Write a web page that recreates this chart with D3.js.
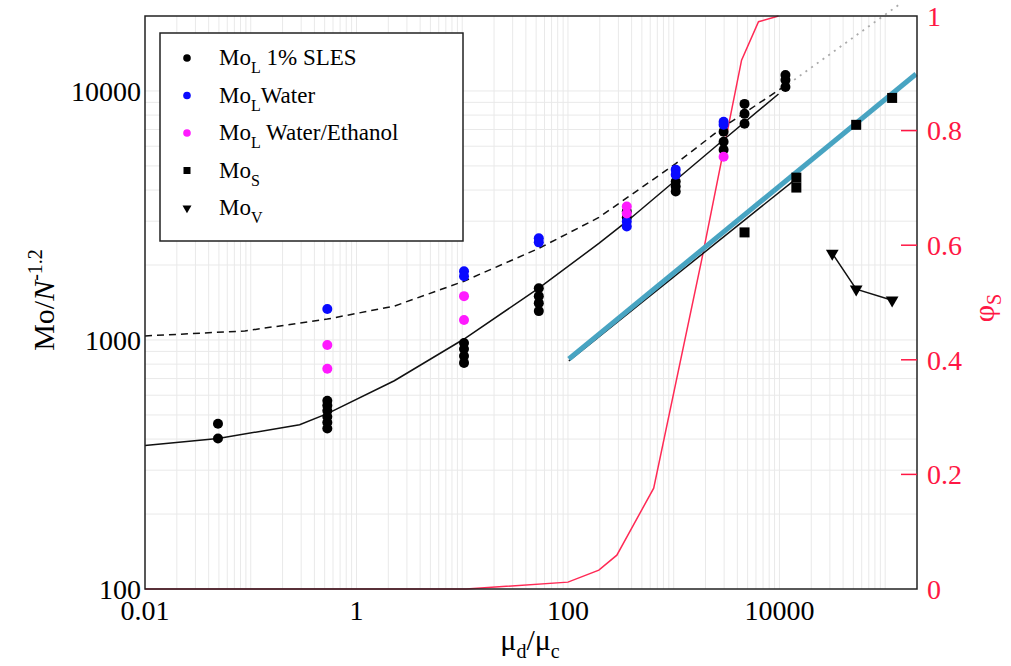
<!DOCTYPE html>
<html>
<head>
<meta charset="utf-8">
<script src="https://cdn.jsdelivr.net/npm/d3@7"></script>
<style>
  body { margin: 0; background: #fff; }
  text { font-family: 'Liberation Serif', 'DejaVu Serif', serif; }
</style>
</head>
<body>
<svg id="chart"></svg>
<script>
// values (x = mu_d/mu_c, y = Mo/N^-1.2)
const slesX = [0.049, 0.049, 0.53, 0.53, 0.53, 0.53, 0.53, 0.53, 10.4, 10.4, 10.4, 10.4,
  53, 53, 53, 53, 360, 360, 1045, 1045, 1045, 2965, 2965, 2965, 4677, 4677, 4677, 11400, 11400, 11400]
const slesY = [461, 402, 570, 545, 520, 492, 466, 441, 973, 920, 863, 809,
  1614, 1500, 1406, 1306, 3281, 3105, 4325, 4130, 3945, 6855, 6252, 5808, 8872, 8091, 7379, 11590, 11066, 10375]

const waterX = [0.53, 10.4, 10.4, 53, 53, 360, 360, 1045, 1045, 2965, 2965]
const waterY = [1331, 1888, 1803, 2559, 2466, 2992, 2858, 4831, 4613, 7516, 7311]

const ethanolX = [0.53, 0.53, 10.4, 10.4, 360, 360, 2965]
const ethanolY = [955, 766, 1500, 1202, 3436, 3221, 5445]

const moSX = [4677, 14454, 14454, 53200, 116400]
const moSY = [2704, 4487, 4093, 7311, 9376]

const moVX = [31600, 53200, 116400]
const moVY = [2228, 1600, 1445]

// model curves
const solidX = [0.01, 0.049, 0.29, 0.53, 2.28, 10.4, 53, 196, 360, 2965, 9800]
const solidY = [377, 402, 457, 506, 686, 1009, 1614, 2443, 2992, 6368, 9727]
const dashedX = [0.01, 0.088, 0.53, 2.28, 10.4, 53, 196, 1045, 2965, 10900]
const dashedY = [1038, 1087, 1213, 1368, 1722, 2333, 3105, 5105, 7178, 10375]
const dottedX = [12170, 132700]
const dottedY = [10670, 22080]
const fitSX = [102, 14454]
const fitSY = [824, 4446]
const blueX = [102, 196000]
const blueY = [839, 11700]

// phi_S curve (right axis)
const phiX = [0.01, 10.9, 100, 196, 290, 647, 1837, 4385, 6340, 9800]
const phiY = [0, 0, 0.012, 0.033, 0.059, 0.176, 0.574, 0.923, 0.99, 1.0]

const xTicks = [0.01, 1, 100, 10000]
const yTicks = [100, 1000, 10000]
const phiTicks = [0, 0.2, 0.4, 0.6, 0.8, 1]

const W = 1011, H = 666
const margin = { left: 145, right: 94, top: 16, bottom: 77 }
const iw = W - margin.left - margin.right
const ih = H - margin.top - margin.bottom

const svg = d3.select('#chart').attr('width', W).attr('height', H)
const g = svg.append('g').attr('transform', `translate(${margin.left},${margin.top})`)

const x = d3.scaleLog().domain([0.01, 2e5]).range([0, iw])
const y = d3.scaleLog().domain([100, 20000]).range([ih, 0])
const yR = d3.scaleLinear().domain([0, 1]).range([ih, 0])

// faint log grid
const gridCol = '#e9e9e9'
const xMinor = []
for (let e = -2; e <= 5; e++) for (let m = 1; m <= 9; m++) {
  const v = m * Math.pow(10, e)
  if (v > 0.01 && v < 2e5) xMinor.push(v)
}
const yMinor = []
for (let e = 2; e <= 4; e++) for (let m = 1; m <= 9; m++) {
  const v = m * Math.pow(10, e)
  if (v > 100 && v < 20000) yMinor.push(v)
}
g.append('g').selectAll('line').data(xMinor).enter().append('line')
  .attr('x1', d => x(d)).attr('x2', d => x(d)).attr('y1', 0).attr('y2', ih)
  .attr('stroke', gridCol).attr('stroke-width', 1)
g.append('g').selectAll('line').data(yMinor).enter().append('line')
  .attr('y1', d => y(d)).attr('y2', d => y(d)).attr('x1', 0).attr('x2', iw)
  .attr('stroke', gridCol).attr('stroke-width', 1)

const zip = (xs, ys) => xs.map((v, i) => [v, ys[i]])
const line = d3.line().x(d => x(d[0])).y(d => y(d[1]))
const lineR = d3.line().x(d => x(d[0])).y(d => yR(d[1]))

// phi_S
g.append('path').attr('d', lineR(zip(phiX, phiY)))
  .attr('fill', 'none').attr('stroke', '#ff2a55').attr('stroke-width', 1.5)

g.append('path').attr('d', line(zip(solidX, solidY)))
  .attr('fill', 'none').attr('stroke', '#111').attr('stroke-width', 1.5)
g.append('path').attr('d', line(zip(dashedX, dashedY)))
  .attr('fill', 'none').attr('stroke', '#111').attr('stroke-width', 1.5)
  .attr('stroke-dasharray', '7,5')
g.append('path').attr('d', line(zip(dottedX, dottedY)))
  .attr('fill', 'none').attr('stroke', '#aaa').attr('stroke-width', 1.8)
  .attr('stroke-dasharray', '2,5')
g.append('path').attr('d', line(zip(fitSX, fitSY)))
  .attr('fill', 'none').attr('stroke', '#111').attr('stroke-width', 1.5)
g.append('path').attr('d', line(zip(blueX, blueY)))
  .attr('fill', 'none').attr('stroke', '#48a4c2').attr('stroke-width', 5)

// MoV
g.append('path').attr('d', line(zip(moVX, moVY)))
  .attr('fill', 'none').attr('stroke', '#111').attr('stroke-width', 1.5)

function dots(xs, ys, color) {
  g.append('g').selectAll('circle').data(zip(xs, ys)).enter().append('circle')
    .attr('cx', d => x(d[0])).attr('cy', d => y(d[1])).attr('r', 5)
    .attr('fill', color)
}
dots(slesX, slesY, '#000')
dots(waterX, waterY, '#0a0aff')
dots(ethanolX, ethanolY, '#ff1aff')

g.append('g').selectAll('rect').data(zip(moSX, moSY)).enter().append('rect')
  .attr('x', d => x(d[0]) - 5).attr('y', d => y(d[1]) - 5)
  .attr('width', 10).attr('height', 10).attr('fill', '#000')

const tri = d3.symbol().type(d3.symbolTriangle).size(70)
g.append('g').selectAll('path').data(zip(moVX, moVY)).enter().append('path')
  .attr('d', tri)
  .attr('transform', d => `translate(${x(d[0])},${y(d[1])}) rotate(180)`)
  .attr('fill', '#000')

// frame
g.append('rect').attr('width', iw).attr('height', ih)
  .attr('fill', 'none').attr('stroke', '#222').attr('stroke-width', 1.5)

// left axis labels
g.append('g').selectAll('text').data(yTicks).enter().append('text')
  .attr('x', -4).attr('y', d => y(d)).attr('dy', '0.35em')
  .attr('text-anchor', 'end').attr('font-size', 28).text(d => d)

// bottom axis labels
g.append('g').selectAll('text').data(xTicks).enter().append('text')
  .attr('x', d => x(d)).attr('y', ih + 31)
  .attr('text-anchor', 'middle').attr('font-size', 28).text(d => d)

// right axis (phi_S)
const red = '#ff1744'
g.append('g').selectAll('line').data(phiTicks.filter(d => d > 0 && d < 1)).enter().append('line')
  .attr('x1', iw - 16).attr('x2', iw).attr('y1', d => yR(d)).attr('y2', d => yR(d))
  .attr('stroke', red).attr('stroke-width', 1.5)
g.append('g').selectAll('text').data(phiTicks).enter().append('text')
  .attr('x', iw + 10).attr('y', d => yR(d)).attr('dy', '0.35em')
  .attr('font-size', 28).attr('fill', red).text(d => d)

// axis titles
const yt = svg.append('text').attr('transform', 'translate(54,300) rotate(-90)')
  .attr('text-anchor', 'middle').attr('font-size', 30)
yt.append('tspan').text('Mo/')
yt.append('tspan').attr('font-style', 'italic').text('N')
yt.append('tspan').attr('font-size', 20).attr('dy', -12).text('-1.2')

const xt = svg.append('text').attr('x', 530).attr('y', 650)
  .attr('text-anchor', 'middle').attr('font-size', 30)
xt.append('tspan').text('μ')
xt.append('tspan').attr('font-size', 20).attr('dy', 8).text('d')
xt.append('tspan').attr('dy', -8).text('/μ')
xt.append('tspan').attr('font-size', 20).attr('dy', 8).text('c')

const pt = svg.append('text').attr('transform', 'translate(994,308) rotate(-90)')
  .attr('text-anchor', 'middle').attr('font-size', 30).attr('fill', red)
pt.append('tspan').text('φ')
pt.append('tspan').attr('font-size', 20).attr('dy', 7).text('S')

// legend
const leg = svg.append('g')
leg.append('rect').attr('x', 160).attr('y', 33).attr('width', 303).attr('height', 208)
  .attr('fill', '#fff').attr('stroke', '#222').attr('stroke-width', 1.5)
const legendItems = [
  { sym: 'circle', color: '#000', sub: 'L', rest: ' 1% SLES' },
  { sym: 'circle', color: '#0a0aff', sub: 'L', rest: 'Water' },
  { sym: 'circle', color: '#ff1aff', sub: 'L', rest: ' Water/Ethanol' },
  { sym: 'square', color: '#000', sub: 'S', rest: '' },
  { sym: 'triangle', color: '#000', sub: 'V', rest: '' }
]
legendItems.forEach((d, i) => {
  const cy = 58 + i * 37.5
  if (d.sym === 'circle') {
    leg.append('circle').attr('cx', 187).attr('cy', cy).attr('r', 3.8).attr('fill', d.color)
  } else if (d.sym === 'square') {
    leg.append('rect').attr('x', 183.5).attr('y', cy - 3.5).attr('width', 7).attr('height', 7).attr('fill', d.color)
  } else {
    leg.append('path').attr('d', d3.symbol().type(d3.symbolTriangle).size(35))
      .attr('transform', `translate(187,${cy}) rotate(180)`).attr('fill', d.color)
  }
  const t = leg.append('text').attr('x', 219).attr('y', cy + 7).attr('font-size', 23)
  t.append('tspan').text('Mo')
  t.append('tspan').attr('font-size', 16).attr('dy', 8).text(d.sub)
  if (d.rest) t.append('tspan').attr('dy', -8).text(d.rest)
})
</script>
</body>
</html>
